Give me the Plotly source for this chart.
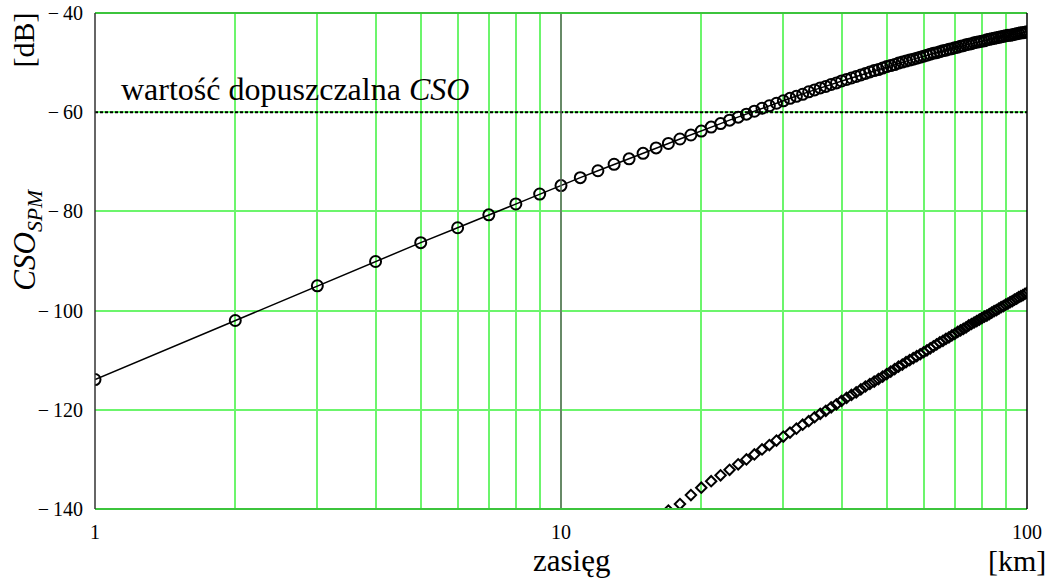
import plotly.graph_objects as go

# zasięg [km]
zasieg = list(range(1, 101))

# CSO_SPM [dB] - krzywa z kółkami (odczyt z wykresu)
cso_spm = [
    -113.9, -102.0, -95.0, -90.1, -86.3, -83.3, -80.7, -78.5, -76.5, -74.8,
    -73.2, -71.8, -70.5, -69.4, -68.3, -67.2, -66.3, -65.4, -64.6, -63.8,
    -63.0, -62.3, -61.6, -61.0, -60.4, -59.8, -59.2, -58.7, -58.2, -57.7,
    -57.2, -56.8, -56.4, -55.9, -55.5, -55.1, -54.8, -54.4, -54.1, -53.7,
    -53.4, -53.1, -52.8, -52.5, -52.2, -51.9, -51.6, -51.4, -51.1, -50.8,
    -50.6, -50.4, -50.1, -49.9, -49.7, -49.5, -49.3, -49.1, -48.9, -48.7,
    -48.5, -48.3, -48.1, -48.0, -47.8, -47.6, -47.5, -47.3, -47.2, -47.0,
    -46.9, -46.7, -46.6, -46.4, -46.3, -46.2, -46.0, -45.9, -45.8, -45.7,
    -45.6, -45.4, -45.3, -45.2, -45.1, -45.0, -44.9, -44.8, -44.7, -44.6,
    -44.5, -44.5, -44.4, -44.3, -44.2, -44.1, -44.0, -44.0, -43.9, -43.8,
]

# druga seria (romby), widoczna od 17 km
zasieg_2 = list(range(17, 101))
cso_2 = [
    -140.3, -139.0, -137.2, -135.7,
    -134.4, -133.2, -132.1, -131.0, -130.0, -129.0, -128.0, -127.1, -126.2, -125.4,
    -124.6, -123.8, -123.0, -122.3, -121.5, -120.8, -120.2, -119.5, -118.9, -118.2,
    -117.6, -117.0, -116.5, -115.9, -115.3, -114.8, -114.3, -113.8, -113.3, -112.8,
    -112.3, -111.8, -111.3, -110.9, -110.4, -110.0, -109.6, -109.2, -108.8, -108.4,
    -108.0, -107.6, -107.2, -106.8, -106.4, -106.1, -105.7, -105.4, -105.0, -104.7,
    -104.3, -104.0, -103.7, -103.4, -103.0, -102.7, -102.4, -102.1, -101.8, -101.5,
    -101.2, -101.0, -100.7, -100.4, -100.1, -99.9, -99.6, -99.3, -99.1, -98.8,
    -98.6, -98.3, -98.1, -97.8, -97.6, -97.3, -97.1, -96.9, -96.6, -96.4,
]

cso_dopuszczalne = -60

x_tick_vals = [1, 2, 3, 4, 5, 6, 7, 8, 9, 10, 20, 30, 40, 50, 60, 70, 80, 90, 100]
x_tick_text = ['1', '', '', '', '', '', '', '', '', '10', '', '', '', '', '', '', '', '', '100']
y_tick_vals = [-140, -120, -100, -80, -60, -40]
y_tick_text = ['\u2212\u2009140', '\u2212\u2009120', '\u2212\u2009100',
               '\u2212\u200980', '\u2212\u200960', '\u2212\u200940']

serif = 'Liberation Serif, Times New Roman, serif'
zielony = '#6cf56c'

fig = go.Figure()

fig.add_trace(go.Scatter(
    x=zasieg, y=cso_spm, mode='lines+markers',
    line=dict(color='black', width=1.5),
    marker=dict(symbol='circle-open', size=11, color='black', line=dict(width=2)),
    showlegend=False))

fig.add_trace(go.Scatter(
    x=zasieg_2, y=cso_2, mode='markers',
    marker=dict(symbol='diamond-open', size=8, color='black', line=dict(width=2)),
    showlegend=False))

# wartość dopuszczalna CSO
fig.add_hline(y=cso_dopuszczalne, line=dict(color='black', width=2, dash='3px,2px'))
# pionowa linia przy 10 km
fig.add_vline(x=10, line=dict(color='#666666', width=1.5))

# ramki
fig.add_shape(type='line', xref='paper', yref='paper', x0=0, x1=1, y0=1, y1=1,
              line=dict(color='#3cc43c', width=2))
fig.add_shape(type='line', xref='paper', yref='paper', x0=0, x1=1, y0=0, y1=0,
              line=dict(color='#3cc43c', width=2))
fig.add_shape(type='line', xref='paper', yref='paper', x0=1, x1=1, y0=0, y1=1,
              line=dict(color='black', width=1.5))
fig.add_shape(type='line', xref='paper', yref='paper', x0=0, x1=0, y0=0, y1=1,
              line=dict(color='#333333', width=1.5))

fig.add_annotation(x=0.026, y=cso_dopuszczalne, xref='paper', yref='y',
                   text='wartość dopuszczalna <i>CSO</i>', showarrow=False,
                   xanchor='left', yanchor='bottom', yshift=3,
                   font=dict(family=serif, size=32, color='black'))

fig.add_annotation(x=-0.077, y=0.945, xref='paper', yref='paper', text='[dB]',
                   textangle=-90, showarrow=False, xanchor='center', yanchor='middle',
                   font=dict(family=serif, size=30, color='black'))
fig.add_annotation(x=-0.073, y=0.545, xref='paper', yref='paper',
                   text='<i>CSO<sub>SPM</sub></i>',
                   textangle=-90, showarrow=False, xanchor='center', yanchor='middle',
                   font=dict(family=serif, size=31, color='black'))
fig.add_annotation(x=0.511, y=-0.104, xref='paper', yref='paper', text='zasięg',
                   showarrow=False, xanchor='center', yanchor='middle',
                   font=dict(family=serif, size=31, color='black'))
fig.add_annotation(x=0.989, y=-0.104, xref='paper', yref='paper', text='[km]',
                   showarrow=False, xanchor='center', yanchor='middle',
                   font=dict(family=serif, size=30, color='black'))

fig.update_layout(
    width=1053, height=578,
    margin=dict(l=95, r=26, t=13, b=69),
    plot_bgcolor='white', paper_bgcolor='white',
    font=dict(family=serif, size=20, color='black'),
    xaxis=dict(type='log', range=[0, 2], tickvals=x_tick_vals, ticktext=x_tick_text,
               showgrid=True, gridcolor=zielony, gridwidth=1.5, zeroline=False,
               showline=False, ticks='', ticklabelstandoff=9, automargin=False,
               ticklabeloverflow='allow'),
    yaxis=dict(range=[-140, -40], tickvals=y_tick_vals, ticktext=y_tick_text,
               showgrid=True, gridcolor=zielony, gridwidth=1.5, zeroline=False,
               showline=False, ticks='', ticklabelstandoff=11, automargin=False,
               ticklabeloverflow='allow'),
)

# bez domyślnego marginesu strony, żeby wykres zajmował całe okno
fig.write_html("out.html", config={'displayModeBar': False},
               post_script="document.body.style.margin = '0';")
